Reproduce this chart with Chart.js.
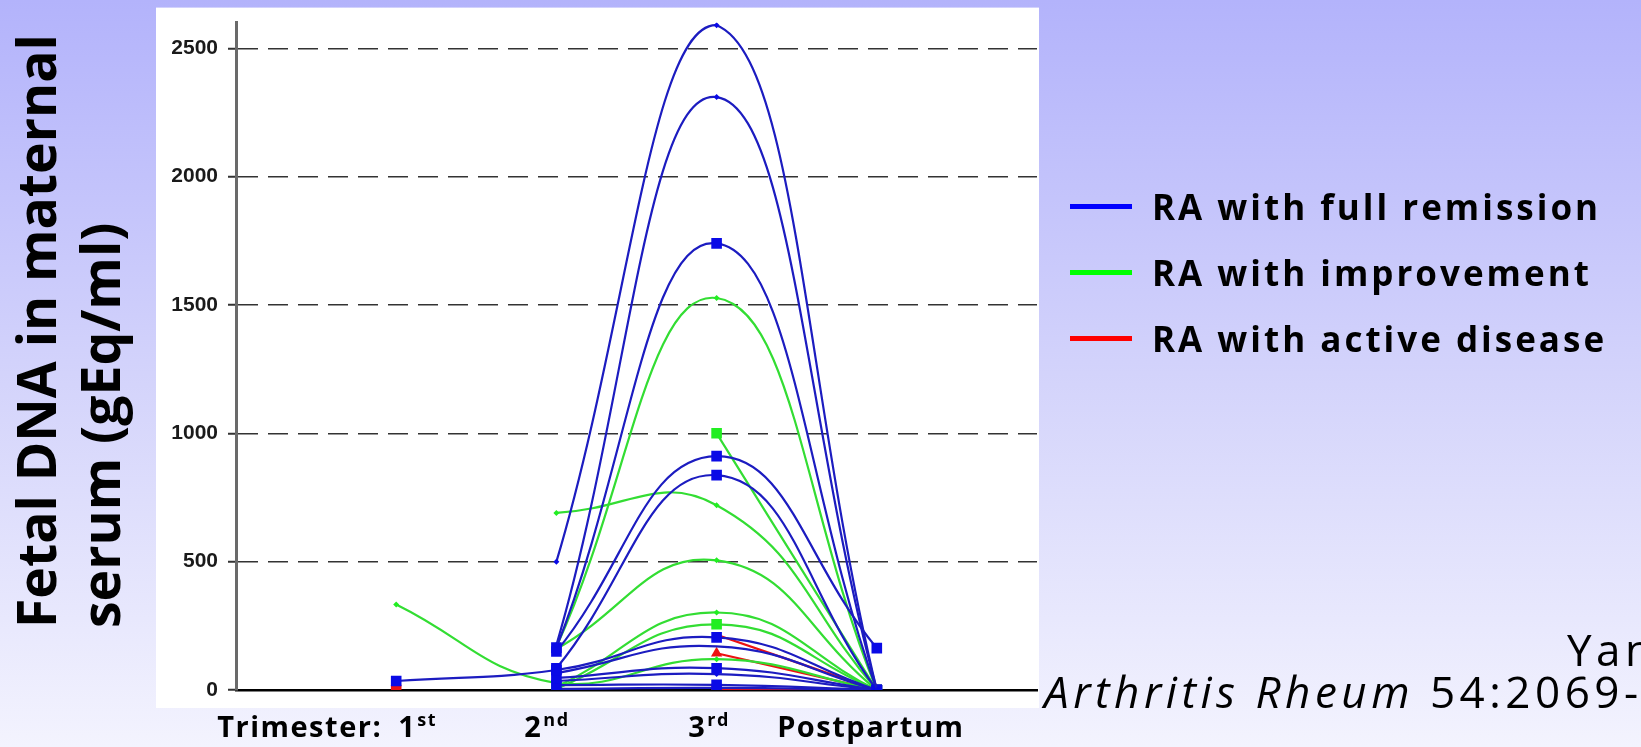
<!DOCTYPE html>
<html>
<head>
<meta charset="utf-8">
<title>Fetal DNA in maternal serum</title>
<script src="https://cdn.jsdelivr.net/npm/chart.js@4.4.0/dist/chart.umd.min.js"></script>
<style>
  html, body { margin: 0; padding: 0; }
  body {
    width: 1641px; height: 747px; overflow: hidden;
    background: linear-gradient(to bottom, #b3b3fb 0%, #d3d3fb 50%, #f3f3fe 100%);
    font-family: 'Comic Sans MS', 'Open Sans', sans-serif;
  }
  #wrap { position: relative; width: 1641px; height: 747px; overflow: hidden; }
  #chart { position: absolute; left: 0; top: 0; }
  #ytitle {
    position: absolute; left: 4px; top: 628px;
    transform-origin: 0 0; transform: rotate(-90deg);
    white-space: nowrap; font-weight: 700; font-size: 53.5px; line-height: 64px; color: #000;
  }
  #legend { position: absolute; left: 1070px; top: 173px; }
  .row { display: flex; align-items: center; height: 66px; }
  .swatch { width: 62px; height: 5px; margin-right: 20px; }
  .lbl { font-weight: 700; font-size: 35px; letter-spacing: 3px; color: #000; white-space: nowrap; }
  .cite { position: absolute; font-size: 44px; letter-spacing: 4.5px; line-height: 44px; color: #000; white-space: nowrap; }
</style>
</head>
<body>
<div id="wrap">
  <canvas id="chart" width="1641" height="747"></canvas>
  <div id="ytitle">Fetal DNA in maternal<br>serum (gEq/ml)</div>
  <div id="legend"></div>
  <div class="cite" style="left:1567px; top:627px;">Yan</div>
  <div class="cite" style="left:1044px; top:669px;"><i>Arthritis Rheum</i> 54:2069-</div>
</div>
<script>
// ===== DATA =====
const categories = ['1st', '2nd', '3rd', 'Postpartum'];
const xMain = ['1', '2', '3', 'Postpartum'];
const xSup = ['st', 'nd', 'rd', ''];
const xPrefix = 'Trimester:';
const yTicks = [0, 500, 1000, 1500, 2000, 2500];
const yMax = 2600;

// RA with full remission (values at 1st, 2nd, 3rd, postpartum)
const remission1 = [null, 500, 2590, 0];
const remission2 = [null, 175, 2310, 0];
const remission3 = [null, 165, 1740, 0];
const remission4 = [null, 150, 911, 163];
const remission5 = [35, 78, 205, 0];
const remission6 = [null, 85, 837, 0];
const remission7 = [null, 66, 170, 0];
const remission8 = [null, 47, 85, 0];
const remission9 = [null, 35, 62, 0];
const remission10 = [null, 19, 20, 0];
const remission11 = [null, 4, 8, 0];

// RA with improvement
const improve1 = [333, 27, 120, 0];
const improve2 = [null, 690, 720, 0];
const improve3 = [null, 168, 1527, 0];
const improve4 = [null, 160, 505, 0];
const improve5 = [null, 12, 302, 0];
const improve6 = [null, null, 1000, 0];
const improve7 = [null, 5, 256, 0];

// RA with active disease
const active1 = [0, null, 0, 0];
const active2 = [null, null, 215, 0];
const active3 = [null, null, 143, 0];

const legendNames = ['RA with full remission', 'RA with improvement', 'RA with active disease'];

// ===== STYLE =====
const legendColors = ['#0000ff', '#00ff00', '#ff0000'];
const lineColors = ['#1c1cc0', '#33dd33', '#ee1111'];
const markColors = ['#0a0ae6', '#22ee22', '#ee1111'];
const marks = {
  square: { pointStyle: 'rect', pointRadius: 7.5 },
  small: { pointStyle: 'rectRot', pointRadius: 3 },
  tri: { pointStyle: 'triangle', pointRadius: 6.5 },
  none: { pointStyle: 'circle', pointRadius: 0 }
};

const groups = [
  {
    series: [remission1, remission2, remission3, remission4, remission5, remission6,
             remission7, remission8, remission9, remission10, remission11],
    marks: ['small', 'small', 'square', 'square', 'square', 'square',
            'none', 'square', 'small', 'square', 'small']
  },
  {
    series: [improve1, improve2, improve3, improve4, improve5, improve6, improve7],
    marks: ['small', 'small', 'small', 'small', 'small', 'square', 'square']
  },
  {
    series: [active1, active2, active3],
    marks: ['square', 'none', 'tri']
  }
];

const datasets = [];
groups.forEach((g, gi) => {
  g.series.forEach((vals, si) => {
    const m = marks[g.marks[si]];
    datasets.push({
      label: legendNames[gi],
      data: [null, ...vals, null],
      borderColor: lineColors[gi],
      backgroundColor: markColors[gi],
      pointBorderColor: markColors[gi],
      borderWidth: 2.2,
      tension: 0.45,
      pointStyle: m.pointStyle,
      pointRadius: m.pointRadius,
      pointBorderWidth: 0,
      spanGaps: false
    });
  });
});

// ===== PLUGIN: white panel + trimester labels =====
const panelPlugin = {
  id: 'panel',
  beforeDraw(chart) {
    const { ctx, chartArea: a } = chart;
    ctx.save();
    ctx.fillStyle = '#ffffff';
    ctx.fillRect(a.left - 80, a.top - 15, a.right - a.left + 82, a.bottom - a.top + 33);
    ctx.restore();
  },
  afterDraw(chart) {
    const { ctx, chartArea: a } = chart;
    const xs = chart.scales.x;
    const shift = [0, -10, -8, -6];
    const base = a.bottom + 47;
    const mainFont = "bold 29px 'Comic Sans MS', 'Open Sans', sans-serif";
    const supFont = "bold 18px 'Comic Sans MS', 'Open Sans', sans-serif";
    ctx.save();
    ctx.fillStyle = '#000';
    ctx.textBaseline = 'alphabetic';
    ctx.letterSpacing = '1.5px';
    categories.forEach((c, i) => {
      const px = xs.getPixelForValue(i + 1);
      ctx.font = mainFont;
      const wm = ctx.measureText(xMain[i]).width;
      ctx.font = supFont;
      const ws = ctx.measureText(xSup[i]).width;
      let start = px + shift[i] - (wm + ws) / 2;
      if (i === 0) {
        start = px + 2;
        ctx.font = mainFont;
        ctx.textAlign = 'right';
        ctx.fillText(xPrefix, px - 14, base);
      }
      ctx.textAlign = 'left';
      ctx.font = mainFont;
      ctx.fillText(xMain[i], start, base);
      ctx.font = supFont;
      ctx.fillText(xSup[i], start + wm + 1, base - 11);
    });
    ctx.restore();
  }
};

// ===== CHART =====
new Chart(document.getElementById('chart'), {
  type: 'line',
  data: { labels: ['', ...categories, ''], datasets },
  plugins: [panelPlugin],
  options: {
    responsive: false,
    animation: false,
    devicePixelRatio: 1,
    layout: { padding: { top: 19, right: 604, left: 0, bottom: 0 } },
    plugins: { legend: { display: false }, tooltip: { enabled: false } },
    scales: {
      x: {
        type: 'category',
        offset: false,
        grid: { display: false },
        ticks: { display: false },
        border: { display: true, color: '#000', width: 2.5 },
        afterFit: s => { s.height = 57; }
      },
      y: {
        min: 0,
        max: yMax,
        afterBuildTicks: s => { s.ticks = yTicks.map(v => ({ value: v })); },
        afterFit: s => { s.width = 236; },
        grid: {
          color: c => (c.tick && c.tick.value === 0 ? 'rgba(0,0,0,0)' : '#333'),
          lineWidth: 1.5,
          tickLength: 8,
          tickColor: '#333',
          tickWidth: 2
        },
        border: { display: true, color: '#6a6a6a', width: 3, dash: [20, 10] },
        ticks: {
          padding: 10,
          color: '#1a1a1a',
          callback: v => String(v),
          font: { family: "'Liberation Sans', Arial, sans-serif", size: 21, weight: 'bold' }
        }
      }
    }
  }
});

// ===== LEGEND =====
const legend = document.getElementById('legend');
legendNames.forEach((name, i) => {
  const row = document.createElement('div');
  row.className = 'row';
  row.innerHTML = `<div class="swatch" style="background:${legendColors[i]}"></div><div class="lbl">${name}</div>`;
  legend.appendChild(row);
});
</script>
</body>
</html>
